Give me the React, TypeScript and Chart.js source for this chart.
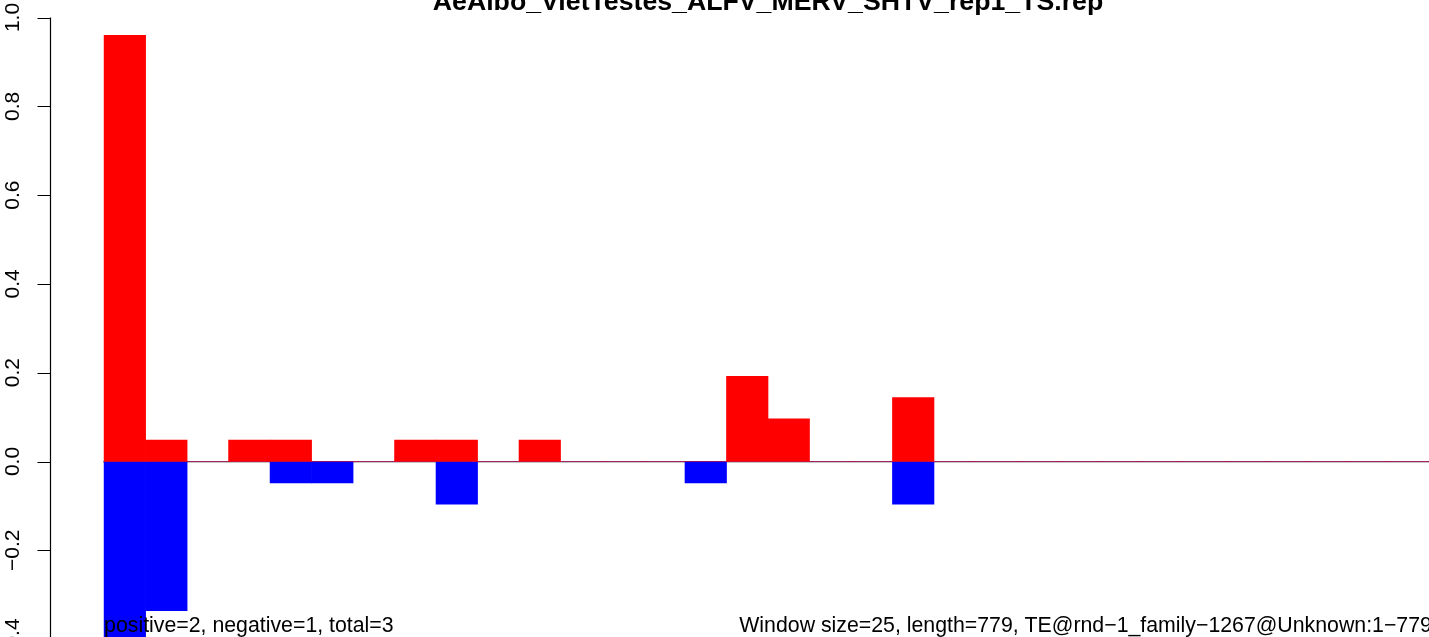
import React, { useEffect, useRef } from "react";
import { Chart, registerables } from "chart.js";

Chart.register(...registerables);

// ---- data ----
const title = "AeAlbo_VietTestes_ALFV_MERV_SHTV_rep1_TS.rep";
const leftNote = "positive=2, negative=1, total=3";
const rightNote = "Window size=25, length=779, TE@rnd\u22121_family\u22121267@Unknown:1\u2212779";
const binCount = 32;
const positiveValues = [
  0.96, 0.048, 0, 0.048, 0.048, 0, 0, 0.048, 0.048, 0, 0.048, 0, 0, 0, 0, 0.192,
  0.096, 0, 0, 0.144, 0, 0, 0, 0, 0, 0, 0, 0, 0, 0, 0, 0,
];
const negativeValues = [
  -0.432, -0.336, 0, 0, -0.048, -0.048, 0, 0, -0.096, 0, 0, 0, 0, 0, -0.048, 0,
  0, 0, 0, -0.096, 0, 0, 0, 0, 0, 0, 0, 0, 0, 0, 0, 0,
];
const yTicks = [-0.4, -0.2, 0, 0.2, 0.4, 0.6, 0.8, 1.0];
const yTickLabels = ["\u22120.4", "\u22120.2", "0.0", "0.2", "0.4", "0.6", "0.8", "1.0"];

// ---- layout / view ----
const CANVAS_W = 1500;
const CANVAS_H = 637;
const X_MIN = -0.04 * binCount;
const X_MAX = binCount * 1.04;
const Y_MAX = 461.5 / 444;
const Y_MIN = -175.5 / 444;
const FONT = "'Liberation Sans', Arial, Helvetica, sans-serif";

const decorPlugin = {
  id: "rDecor",
  beforeDatasetsDraw(chart: any) {
    const { ctx } = chart;
    const xs = chart.scales.x;
    const ys = chart.scales.y;
    ctx.save();
    ctx.strokeStyle = "#8a8a8a";
    ctx.lineWidth = 1.6;
    const y0 = ys.getPixelForValue(0) + 0.3;
    ctx.beginPath();
    ctx.moveTo(xs.getPixelForValue(0) - 1, y0);
    ctx.lineTo(xs.getPixelForValue(binCount), y0);
    ctx.stroke();
    ctx.restore();
  },
  afterDraw(chart: any) {
    const { ctx, chartArea } = chart;
    const xs = chart.scales.x;
    const ys = chart.scales.y;
    ctx.save();
    // y axis
    const axisX = chartArea.left - 0.5;
    const yTop = ys.getPixelForValue(yTicks[yTicks.length - 1]);
    const yBot = ys.getPixelForValue(yTicks[0]);
    ctx.strokeStyle = "#000";
    ctx.lineWidth = 1.2;
    ctx.beginPath();
    ctx.moveTo(axisX, yTop);
    ctx.lineTo(axisX, yBot);
    for (const v of yTicks) {
      const py = Math.round(ys.getPixelForValue(v)) + 0.5;
      ctx.moveTo(axisX, py);
      ctx.lineTo(axisX - 13, py);
    }
    ctx.stroke();
    ctx.fillStyle = "#000";
    ctx.font = `21px ${FONT}`;
    ctx.textAlign = "center";
    ctx.textBaseline = "alphabetic";
    yTicks.forEach((v, i) => {
      const py = ys.getPixelForValue(v);
      ctx.save();
      ctx.translate(axisX - 32, py);
      ctx.rotate(-Math.PI / 2);
      ctx.fillText(yTickLabels[i], 0, 0);
      ctx.restore();
    });
    // title
    ctx.font = `bold 26.7px ${FONT}`;
    ctx.textAlign = "center";
    ctx.fillText(title, (chartArea.left + chartArea.right) / 2, 9.5);
    // notes
    ctx.font = `21.3px ${FONT}`;
    ctx.textAlign = "left";
    ctx.fillText(leftNote, xs.getPixelForValue(0), 632);
    ctx.textAlign = "right";
    ctx.fillText(rightNote, xs.getPixelForValue(binCount), 632);
    ctx.restore();
  },
};

export default function App() {
  const ref = useRef<HTMLCanvasElement | null>(null);
  useEffect(() => {
    if (!ref.current) return;
    const chart = new Chart(ref.current, {
      type: "bar",
      data: {
        datasets: [
          {
            label: "positive",
            data: positiveValues.map((v, i) => ({ x: i + 0.5, y: v })),
            backgroundColor: "#FF0000",
            borderWidth: 0,
            grouped: false,
            barPercentage: 1,
            categoryPercentage: 1,
          },
          {
            label: "negative",
            data: negativeValues.map((v, i) => ({ x: i + 0.5, y: v })),
            backgroundColor: "#0000FF",
            borderWidth: 0,
            grouped: false,
            barPercentage: 1,
            categoryPercentage: 1,
          },
        ],
      } as any,
      options: {
        responsive: false,
        animation: false,
        layout: { padding: { left: 51, right: CANVAS_W - 1485, top: 0, bottom: 0 } },
        plugins: { legend: { display: false }, tooltip: { enabled: false }, title: { display: false } },
        scales: {
          x: { type: "linear", min: X_MIN, max: X_MAX, display: false, offset: false },
          y: { type: "linear", min: Y_MIN, max: Y_MAX, display: false },
        },
      } as any,
      plugins: [decorPlugin],
    });
    return () => chart.destroy();
  }, []);
  return (
    <div style={{ position: "absolute", left: 0, top: 0, width: 1429, height: 637, overflow: "hidden", background: "#fff" }}>
      <canvas ref={ref} width={CANVAS_W} height={CANVAS_H} style={{ display: "block", width: CANVAS_W, height: CANVAS_H }} />
    </div>
  );
}
